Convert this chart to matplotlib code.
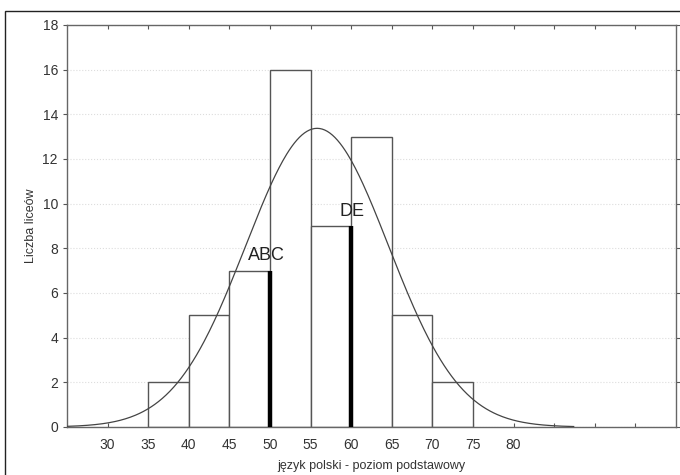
import numpy as np
import matplotlib.pyplot as plt
from matplotlib.patches import Rectangle

# ── Data ──────────────────────────────────────────────────────────────────────
bin_edges = [35, 40, 45, 50, 55, 60, 65, 70, 75]
counts = [2, 5, 7, 16, 9, 13, 5, 2]

# fitted normal curve (mean / sd estimated from the drawn curve)
fit_mean = 55.8
fit_sd = 8.8
fit_n = sum(counts)
bin_width = 5
curve_range = (25, 87.4)

marker_x = [50, 60]
marker_h = [7, 9]
marker_labels = ["ABC", "DE"]
label_pos = [(49.6, 7.3), (60.1, 9.25)]

x_ticks = list(range(30, 100, 5))
x_ticklabels = [str(t) if t <= 80 else "" for t in x_ticks]
y_ticks = list(range(0, 19, 2))

plt.rcParams["font.family"] = ["Liberation Sans", "DejaVu Sans"]
TXT = "#333333"
EDGE = "#555555"

fig = plt.figure(figsize=(6.8, 4.75), dpi=100)
fig.patches.append(Rectangle((5 / 680, -0.05), 1.1, 1.05 - 11 / 475, transform=fig.transFigure,
                             fill=False, edgecolor="#222222", linewidth=1.0))
ax = fig.add_axes([67 / 680, 48 / 475, 609 / 680, 402 / 475])

# ── Histogram ─────────────────────────────────────────────────────────────────
ax.bar(bin_edges[:-1], counts, width=np.diff(bin_edges), align="edge",
       facecolor="white", edgecolor=EDGE, linewidth=1.0, zorder=2)

# ── Normal fit ────────────────────────────────────────────────────────────────
xs = np.linspace(curve_range[0], curve_range[1], 400)
ys = fit_n * bin_width / (fit_sd * np.sqrt(2 * np.pi)) * np.exp(-0.5 * ((xs - fit_mean) / fit_sd) ** 2)
ax.plot(xs, ys, color="#444444", linewidth=0.9, zorder=3)

# ── Marker lines ──────────────────────────────────────────────────────────────
for x, h, lab, (tx, ty) in zip(marker_x, marker_h, marker_labels, label_pos):
    ax.plot([x, x], [0, h], color="black", linewidth=3.2, zorder=4, solid_capstyle="butt")
    ax.text(tx, ty, lab, ha="center", va="bottom", fontsize=13, color="#222222", zorder=5)

# ── Axes decoration ───────────────────────────────────────────────────────────
ax.set_xlim(25, 100)
ax.set_ylim(0, 18)
ax.set_xticks(x_ticks)
ax.set_xticklabels(x_ticklabels)
ax.set_yticks(y_ticks)
ax.tick_params(axis="x", direction="in", top=True, length=3, color=EDGE,
               labelsize=10, labelcolor=TXT, pad=8)
ax.tick_params(axis="y", direction="out", right=True, length=3, color=EDGE,
               labelsize=10, labelcolor=TXT)
ax.grid(True, axis="y", color="#dddddd", linestyle=":", linewidth=0.8, zorder=0)
for s in ax.spines.values():
    s.set_color("#666666")
    s.set_linewidth(1.0)

ax.set_xlabel("język polski - poziom podstawowy", fontsize=9, color=TXT, labelpad=6)
ax.set_ylabel("Liczba liceów", fontsize=9, color=TXT, labelpad=4)

fig.savefig("out.png", dpi=100)
